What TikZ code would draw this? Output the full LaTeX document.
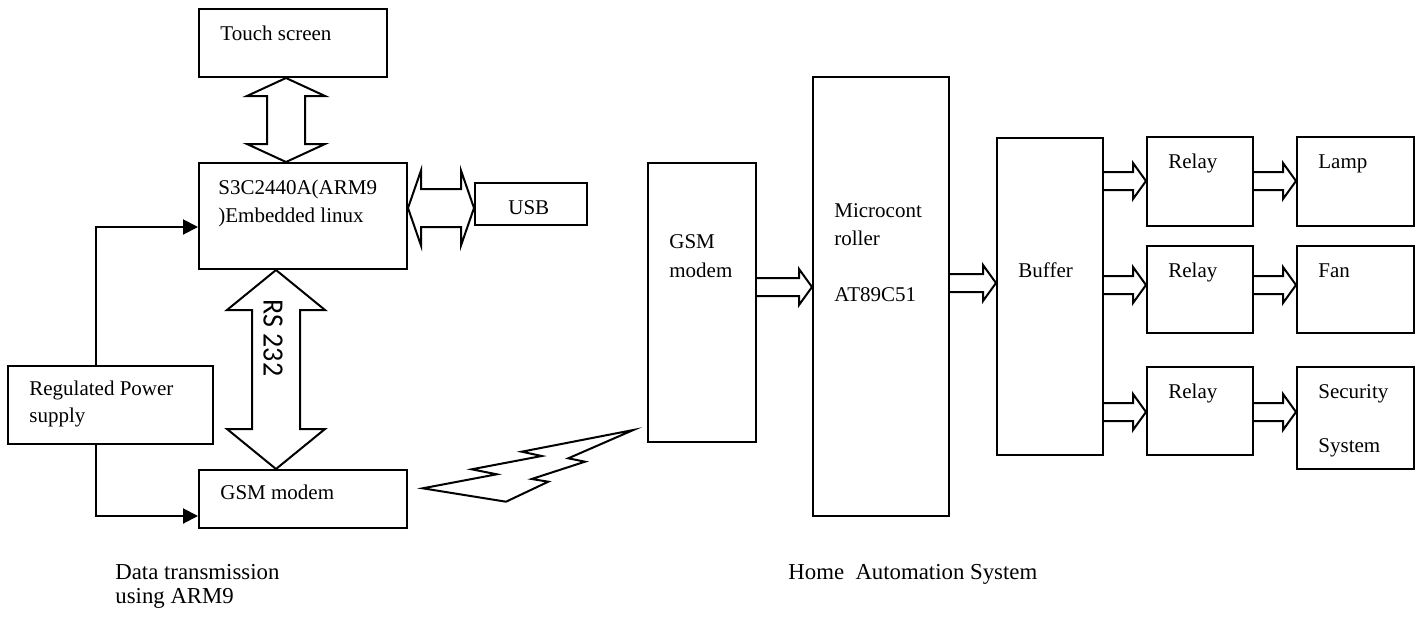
\documentclass[tikz,border=0pt]{standalone}
\usepackage{fontspec}
\setmainfont{Liberation Serif}
\newfontfamily\rsfont{Carlito}
\usetikzlibrary{fit,calc,arrows.meta}
\newcommand\rblk[3]{%
  \path (0,#3) coordinate (tmpy);
  \draw[blk] let \p1=(#1.east |- tmpy), \p2=(#2.west |- tmpy) in
    (\x1,{\y1+4.5pt}) -- ({\x2-6.5pt},{\y1+4.5pt}) -- ({\x2-6.5pt},{\y1+9pt}) -- (\x2,\y1)
    -- ({\x2-6.5pt},{\y1-9pt}) -- ({\x2-6.5pt},{\y1-4.5pt}) -- (\x1,{\y1-4.5pt});}
\newcommand\vdbl[6]{%
  \path (#3,0) coordinate (tmpx);
  \draw[blk] let \p1=(tmpx |- #1), \p2=(tmpx |- #2) in
    (\x1,\y1) -- ({\x1+#5},{\y1-#4}) -- ({\x1+#6},{\y1-#4}) -- ({\x1+#6},{\y2+#4})
    -- ({\x1+#5},{\y2+#4}) -- (\x1,\y2) -- ({\x1-#5},{\y2+#4}) -- ({\x1-#6},{\y2+#4})
    -- ({\x1-#6},{\y1-#4}) -- ({\x1-#5},{\y1-#4}) -- cycle;}
\newcommand\hdbl[6]{%
  \path (0,#3) coordinate (tmpy);
  \draw[blk] let \p1=(#1 |- tmpy), \p2=(#2 |- tmpy) in
    (\x1,\y1) -- ({\x1+#4},{\y1+#5}) -- ({\x1+#4},{\y1+#6}) -- ({\x2-#4},{\y1+#6})
    -- ({\x2-#4},{\y1+#5}) -- (\x2,\y1) -- ({\x2-#4},{\y1-#5}) -- ({\x2-#4},{\y1-#6})
    -- ({\x1+#4},{\y1-#6}) -- ({\x1+#4},{\y1-#5}) -- cycle;}
\begin{document}
\begin{tikzpicture}[x=0.5pt,y=-0.5pt,
  box/.style={draw,line width=1pt,inner sep=0pt},
  lbl/.style={anchor=base west,inner sep=0pt,font=\fontsize{10.5}{12}\selectfont},
  captext/.style={anchor=base west,inner sep=0pt,font=\fontsize{11.4}{13}\selectfont},
  blk/.style={draw,line width=1pt,line join=miter},
  pw/.style={line width=1pt,-{Triangle[length=7.5pt,width=7.5pt]}}]
\useasboundingbox (0,0) rectangle (1419,616);
% boxes
\node[box,fit={(199,9)(387,77)}] (ts) {};
\node[box,fit={(199,163)(407,269)}] (arm) {};
\node[box,fit={(475,183)(587,225)}] (usb) {};
\node[box,fit={(8,366)(213,444)}] (pwr) {};
\node[box,fit={(199,470)(407,528)}] (gsma) {};
\node[box,fit={(648,163)(756,442)}] (gsmb) {};
\node[box,fit={(813,77)(949,516)}] (mcu) {};
\node[box,fit={(997,138)(1103,455)}] (buf) {};
\node[box,fit={(1147,137)(1253,226)}] (r1) {};
\node[box,fit={(1147,246)(1253,333)}] (r2) {};
\node[box,fit={(1147,367)(1253,455)}] (r3) {};
\node[box,fit={(1297,137)(1414,226)}] (lamp) {};
\node[box,fit={(1297,246)(1414,333)}] (fan) {};
\node[box,fit={(1297,367)(1414,469)}] (sec) {};
% texts
\node[lbl] (tts) at (220,40) {Touch screen};
\node[lbl] (tarm1) at (218,194) {S3C2440A(ARM9};
\node[lbl] (tarm2) at (218,222) {)Embedded linux};
\node[lbl] (tusb) at (508,214) {USB};
\node[lbl] (tpwr1) at (29,395) {Regulated Power};
\node[lbl] (tpwr2) at (29,422) {supply};
\node[lbl] (tgsma) at (220,499) {GSM modem};
\node[lbl] (tgsmb1) at (669,248) {GSM};
\node[lbl] (tgsmb2) at (669,277) {modem};
\node[lbl] (tmcu1) at (834,217) {Microcont};
\node[lbl] (tmcu2) at (834,245) {roller};
\node[lbl] (tmcu3) at (834,301) {AT89C51};
\node[lbl] (tbuf) at (1018,277) {Buffer};
\node[lbl] (tr1) at (1168,168) {Relay};
\node[lbl] (tr2) at (1168,277) {Relay};
\node[lbl] (tr3) at (1168,398) {Relay};
\node[lbl] (tlamp) at (1318,168) {Lamp};
\node[lbl] (tfan) at (1318,277) {Fan};
\node[lbl] (tsec1) at (1318,398) {Security};
\node[lbl] (tsec2) at (1318,452) {System};
\node[captext] (cap1) at (115,579) {Data transmission};
\node[captext] (cap2) at (115,603) {using ARM9};
\node[captext] (cap3) at (788,579) {Home\ \ Automation System};
% double arrows
\vdbl{ts.south}{arm.north}{286}{9pt}{19.5pt}{9.5pt}
\vdbl{arm.south}{gsma.north}{276}{20pt}{24.5pt}{12pt}
\hdbl{arm.east}{usb.west}{208}{6.5pt}{18.75pt}{9.5pt}
\node[rotate=-90,yscale=1.05,inner sep=0pt,font=\rsfont\fontsize{14}{14}\selectfont] (rs) at (273,338) {RS 232};
% block arrows
\rblk{gsmb}{mcu}{287}
\rblk{mcu}{buf}{283}
\rblk{buf}{r1}{181}
\rblk{buf}{r2}{285}
\rblk{buf}{r3}{412}
\rblk{r1}{lamp}{181}
\rblk{r2}{fan}{285}
\rblk{r3}{sec}{412}
% power lines
\path (96,0) coordinate (px) (0,227) coordinate (py1) (0,516) coordinate (py2);
\draw[pw] (px |- pwr.north) |- (arm.west |- py1);
\draw[pw] (px |- pwr.south) |- (gsma.west |- py2);
% wireless link
\draw[line width=1pt,line join=miter] (422.7,488.3) -- (496.7,474.3) -- (471.7,469.3) -- (541.7,456)
  -- (521.7,451.7) -- (633.3,430) -- (568.3,458.3) -- (585,461.7) -- (531.7,479)
  -- (548.3,481.7) -- (506,501.7) -- cycle;
\end{tikzpicture}
\end{document}
